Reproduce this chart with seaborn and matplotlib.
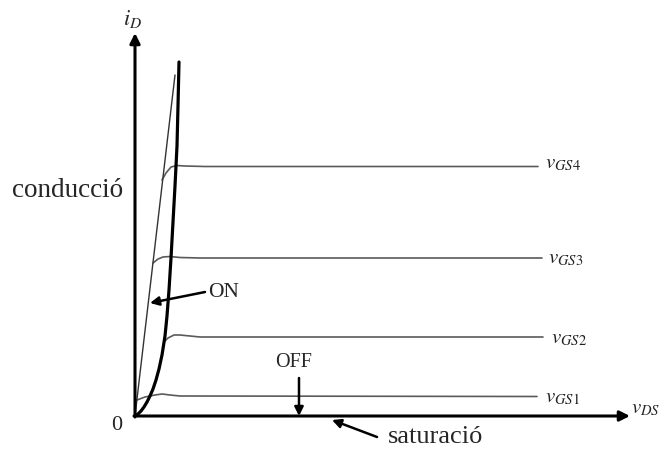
import matplotlib
matplotlib.use("Agg")
import matplotlib.pyplot as plt
import seaborn as sns
import numpy as np

# ---- data (units: v_DS horizontal, i_D vertical, arbitrary) ----
# boundary curve (thick) between ohmic and saturation
bound_x = [0, 3, 6, 9, 12, 15, 18, 21, 24, 27, 30, 32, 34, 36, 38, 40, 42, 43, 44]
bound_y = [0, 2, 5, 9, 14, 20, 27, 36, 47, 61, 80, 100, 126, 158, 194, 230, 270, 310, 354]

# thin ON-resistance line
on_x = [0, 40]
on_y = [0, 341]

# output characteristics for each v_GS
gs4_x = [27, 31, 36, 42, 50, 70, 403]
gs4_y = [236, 243, 249, 250.5, 250, 249.5, 249.5]
gs3_x = [18, 23, 28, 35, 45, 65, 407]
gs3_y = [153, 157, 159, 159.5, 158.5, 158, 158]
gs2_x = [29, 33, 39, 45, 55, 65, 408]
gs2_y = [74, 78, 81, 81, 80, 79, 79]
gs1_x = [2, 10, 20, 27, 35, 45, 402]
gs1_y = [16, 19, 21, 22, 21, 20, 19.5]

gs_labels = [r"$v_{\mathit{GS4}}$", r"$v_{\mathit{GS3}}$", r"$v_{\mathit{GS2}}$", r"$v_{\mathit{GS1}}$"]
gs_label_x = [410, 413, 416, 410]
gs_label_y = [248, 153, 73, 14]

axis_x_end = 495
axis_y_end = 383

sns.set_theme(style="white")
plt.rcParams["font.family"] = ["Liberation Serif", "DejaVu Serif"]
plt.rcParams["mathtext.fontset"] = "stix"

fig = plt.figure(figsize=(6.62, 4.5), dpi=100)
ax = fig.add_axes([0, 0, 1, 1])
ax.set_xlim(-135, 527)
ax.set_ylim(-34, 416)
ax.axis("off")

# characteristic curves
curve_color = "#5a5a5a"
for xs, ys in [(gs4_x, gs4_y), (gs3_x, gs3_y), (gs2_x, gs2_y), (gs1_x, gs1_y)]:
    sns.lineplot(x=xs, y=ys, ax=ax, color=curve_color, lw=1.2, sort=False,
                 estimator=None)

# ON line
sns.lineplot(x=on_x, y=on_y, ax=ax, color="#333333", lw=1.0, sort=False,
             estimator=None)

# boundary thick curve
sns.lineplot(x=bound_x, y=bound_y, ax=ax, color="black", lw=2.3, sort=False,
             estimator=None)

# axes with arrows
ax.annotate("", xy=(0, axis_y_end), xytext=(0, -1),
            arrowprops=dict(arrowstyle="-|>", lw=2.2, color="black",
                            mutation_scale=15, shrinkA=0, shrinkB=0))
ax.annotate("", xy=(axis_x_end, 0), xytext=(-1, 0),
            arrowprops=dict(arrowstyle="-|>", lw=2.2, color="black",
                            mutation_scale=15, shrinkA=0, shrinkB=0))

# axis labels
ax.text(-2, 397, r"$i_D$", fontsize=16, ha="center", va="center")
ax.text(496, 3, r"$v_{DS}$", fontsize=15, ha="left", va="baseline")
ax.text(-18, -9, "0", fontsize=16, ha="center", va="center")

# v_GS labels
for lab, lx, ly in zip(gs_labels, gs_label_x, gs_label_y):
    ax.text(lx, ly, lab, fontsize=15, ha="left", va="baseline", color="#222222")

# region labels
ax.text(-123, 219, "conducció", fontsize=19.5, ha="left", va="baseline")
ax.text(73, 119, "ON", fontsize=15.5, ha="left", va="baseline")
ax.text(140, 49, "OFF", fontsize=14.5, ha="left", va="baseline")
ax.text(253, -27, "saturació", fontsize=19, ha="left", va="baseline")

arrow_kw = dict(arrowstyle="-|>", lw=1.8, color="black", mutation_scale=13,
                shrinkA=0, shrinkB=0)
ax.annotate("", xy=(15, 113), xytext=(70, 124), arrowprops=arrow_kw)
ax.annotate("", xy=(164, 0), xytext=(164, 38), arrowprops=arrow_kw)
ax.annotate("", xy=(197, -4), xytext=(242, -21), arrowprops=arrow_kw)

fig.savefig("out.png", dpi=100)
